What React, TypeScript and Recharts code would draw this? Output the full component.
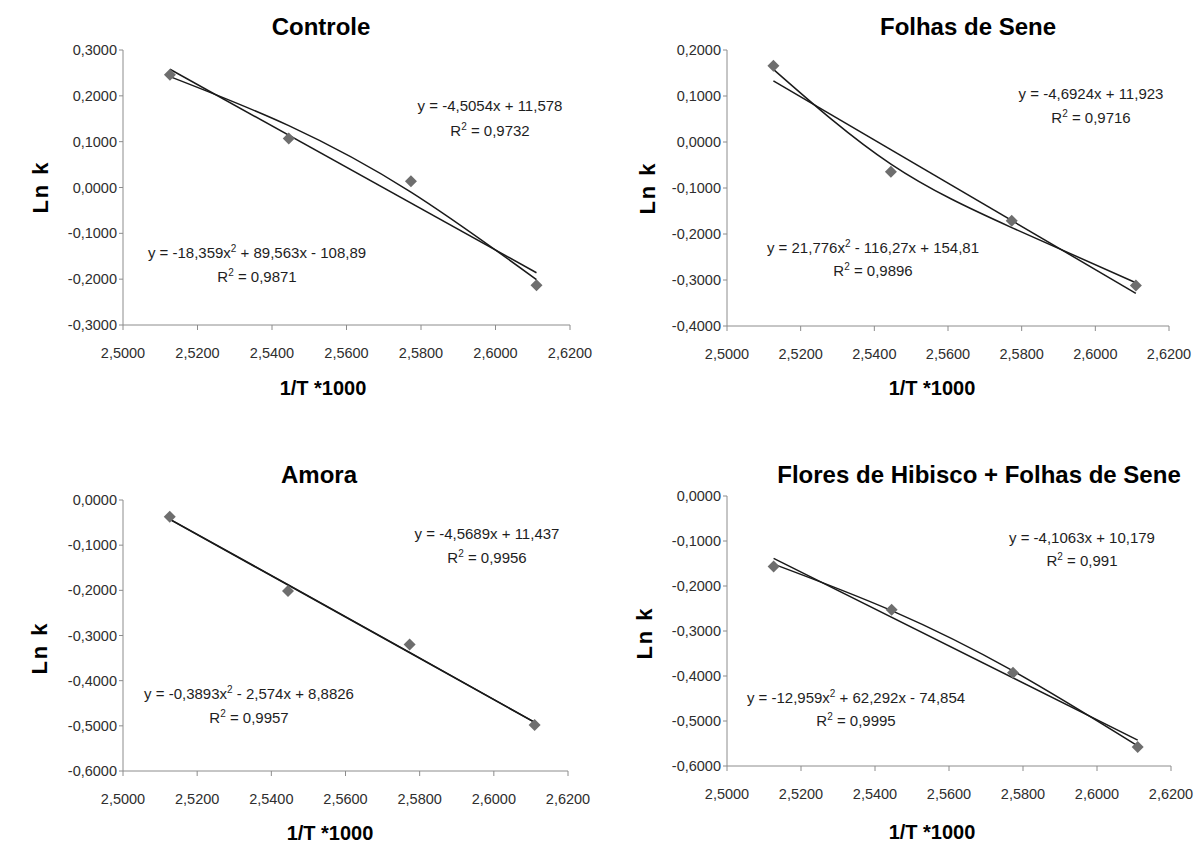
import React from 'react';
import { ComposedChart, Line, Scatter, XAxis, YAxis } from 'recharts';

// 1/T * 1000 for the four temperatures
const invTemp = [2.5126, 2.5445, 2.5773, 2.611];
const trendEnds = [2.5126, 2.611];
const xTicks = [2.5, 2.52, 2.54, 2.56, 2.58, 2.6, 2.62];

// Ln k
const controleLnK = [0.246, 0.107, 0.0136, -0.213];
const controleLinear = [0.258, -0.186];
const controlePoly = [0.242, 0.135, -0.01, -0.201];

const seneLnK = [0.166, -0.0647, -0.1714, -0.312];
const seneLinear = [0.133, -0.329];
const senePoly = [0.158, -0.048, -0.186, -0.306];

const amoraLnK = [-0.037, -0.2015, -0.32, -0.498];
const amoraLinear = [-0.0428, -0.4924];
const amoraPoly = [-0.0425, -0.1875, -0.3373, -0.4921];

const hibiscoLnK = [-0.1567, -0.2528, -0.393, -0.558];
const hibiscoLinear = [-0.1385, -0.5426];
const hibiscoPoly = [-0.1513, -0.2548, -0.3887, -0.5552];

const ticksControle = [-0.3, -0.2, -0.1, 0, 0.1, 0.2, 0.3];
const ticksSene = [-0.4, -0.3, -0.2, -0.1, 0, 0.1, 0.2];
const ticksLow = [-0.6, -0.5, -0.4, -0.3, -0.2, -0.1, 0];

const toPoints = (xs: number[], ys: number[]) => xs.map((x, i) => ({ x, y: ys[i] }));
const fmt = (v: number) => v.toFixed(4).replace('.', ',');

const FONT = '"Liberation Sans", Arial, sans-serif';

const Diamond = (props: any) => {
  const { cx, cy } = props;
  const r = 6;
  return (
    <polygon
      points={`${cx},${cy - r} ${cx + r},${cy} ${cx},${cy + r} ${cx - r},${cy}`}
      fill="#6e6e6e"
    />
  );
};

const Sup = () => <sup style={{ fontSize: 10 }}>2</sup>;

function Txt({ x, y, size = 15, bold = false, rotate = false, children }: any) {
  return (
    <div
      style={{
        position: 'absolute',
        left: x,
        top: y,
        transform: `translate(-50%, -50%)${rotate ? ' rotate(-90deg)' : ''}`,
        whiteSpace: 'nowrap',
        fontFamily: FONT,
        fontSize: size,
        fontWeight: bold ? 700 : 400,
        color: bold ? '#000' : '#1e1e1e',
        letterSpacing: rotate ? 2 : 0,
      }}
    >
      {children}
    </div>
  );
}

function Panel({ left, top, height, margin, domain, yTicks, points, linear, poly }: any) {
  return (
    <div style={{ position: 'absolute', left, top }}>
      <ComposedChart width={600} height={height} margin={margin}>
        <XAxis
          type="number"
          dataKey="x"
          domain={[2.5, 2.62]}
          ticks={xTicks}
          interval={0}
          tickFormatter={fmt}
          stroke="#8c8c8c"
          tick={{ fill: '#2e2e2e', fontSize: 14.5, fontFamily: FONT }}
          tickSize={5}
          tickMargin={18}
          height={30}
          allowDataOverflow
        />
        <YAxis
          type="number"
          dataKey="y"
          domain={domain}
          ticks={yTicks}
          interval={0}
          tickFormatter={fmt}
          stroke="#8c8c8c"
          tick={{ fill: '#2e2e2e', fontSize: 14.5, fontFamily: FONT }}
          tickSize={4}
          tickMargin={2}
          width={70}
          allowDataOverflow
        />
        <Line
          data={toPoints(trendEnds, linear)}
          dataKey="y"
          type="linear"
          stroke="#1a1a1a"
          strokeWidth={1.5}
          dot={false}
          isAnimationActive={false}
        />
        <Line
          data={toPoints(invTemp, poly)}
          dataKey="y"
          type="natural"
          stroke="#1a1a1a"
          strokeWidth={1.5}
          dot={false}
          isAnimationActive={false}
        />
        <Scatter
          data={toPoints(invTemp, points)}
          dataKey="y"
          shape={Diamond}
          isAnimationActive={false}
        />
      </ComposedChart>
    </div>
  );
}

export default function App() {
  return (
    <div style={{ position: 'absolute', left: 0, top: 0, width: 1200, height: 844, background: '#fff' }}>
      <Panel
        left={0}
        top={0}
        height={420}
        margin={{ top: 50, right: 30, left: 53, bottom: 65 }}
        domain={[-0.3, 0.3]}
        yTicks={ticksControle}
        points={controleLnK}
        linear={controleLinear}
        poly={controlePoly}
      />
      <Panel
        left={600}
        top={0}
        height={420}
        margin={{ top: 50, right: 31, left: 57, bottom: 64 }}
        domain={[-0.4, 0.2]}
        yTicks={ticksSene}
        points={seneLnK}
        linear={seneLinear}
        poly={senePoly}
      />
      <Panel
        left={0}
        top={420}
        height={424}
        margin={{ top: 80, right: 32, left: 53, bottom: 43 }}
        domain={[-0.6, 0]}
        yTicks={ticksLow}
        points={amoraLnK}
        linear={amoraLinear}
        poly={amoraPoly}
      />
      <Panel
        left={600}
        top={420}
        height={424}
        margin={{ top: 76, right: 29, left: 57, bottom: 48 }}
        domain={[-0.6, 0]}
        yTicks={ticksLow}
        points={hibiscoLnK}
        linear={hibiscoLinear}
        poly={hibiscoPoly}
      />

      {/* Controle */}
      <Txt x={321} y={27} size={24} bold>Controle</Txt>
      <Txt x={41} y={187} size={22} bold rotate>Ln k</Txt>
      <Txt x={323} y={388} size={20} bold>1/T *1000</Txt>
      <Txt x={490} y={105}>y = -4,5054x + 11,578</Txt>
      <Txt x={490} y={130}>R<Sup /> = 0,9732</Txt>
      <Txt x={257} y={252}>y = -18,359x<Sup /> + 89,563x - 108,89</Txt>
      <Txt x={257} y={276}>R<Sup /> = 0,9871</Txt>

      {/* Folhas de Sene */}
      <Txt x={968} y={27} size={24} bold>Folhas de Sene</Txt>
      <Txt x={648} y={188} size={22} bold rotate>Ln k</Txt>
      <Txt x={932} y={388} size={20} bold>1/T *1000</Txt>
      <Txt x={1091} y={93}>y = -4,6924x + 11,923</Txt>
      <Txt x={1091} y={117}>R<Sup /> = 0,9716</Txt>
      <Txt x={873} y={247}>y = 21,776x<Sup /> - 116,27x + 154,81</Txt>
      <Txt x={873} y={270}>R<Sup /> = 0,9896</Txt>

      {/* Amora */}
      <Txt x={319} y={475} size={24} bold>Amora</Txt>
      <Txt x={40} y={648} size={22} bold rotate>Ln k</Txt>
      <Txt x={330} y={833} size={20} bold>1/T *1000</Txt>
      <Txt x={487} y={533}>y = -4,5689x + 11,437</Txt>
      <Txt x={487} y={557}>R<Sup /> = 0,9956</Txt>
      <Txt x={249} y={693}>y = -0,3893x<Sup /> - 2,574x + 8,8826</Txt>
      <Txt x={249} y={717}>R<Sup /> = 0,9957</Txt>

      {/* Flores de Hibisco + Folhas de Sene */}
      <Txt x={979} y={475} size={24} bold>Flores de Hibisco + Folhas de Sene</Txt>
      <Txt x={645} y={633} size={22} bold rotate>Ln k</Txt>
      <Txt x={932} y={832} size={20} bold>1/T *1000</Txt>
      <Txt x={1082} y={537}>y = -4,1063x + 10,179</Txt>
      <Txt x={1082} y={560}>R<Sup /> = 0,991</Txt>
      <Txt x={856} y={697}>y = -12,959x<Sup /> + 62,292x - 74,854</Txt>
      <Txt x={856} y={720}>R<Sup /> = 0,9995</Txt>
    </div>
  );
}
